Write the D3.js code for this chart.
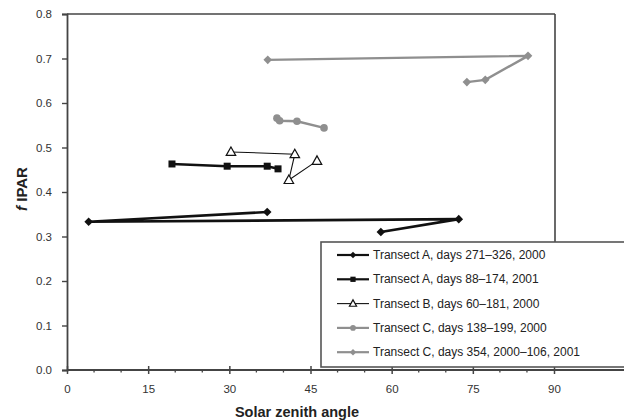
<!DOCTYPE html>
<html>
<head>
<meta charset="utf-8">
<script src="https://cdn.jsdelivr.net/npm/d3@7"></script>
<style>
  html, body { margin: 0; padding: 0; background: #fff; }
  svg { display: block; font-family: "Liberation Sans", Arial, sans-serif; }
</style>
</head>
<body>
<svg id="chart" width="624" height="420"></svg>
<script>
// fIPAR versus solar zenith angle, per transect and period
const seriesNames = [
  "Transect A, days 271\u2013326, 2000",
  "Transect A, days 88\u2013174, 2001",
  "Transect B, days 60\u2013181, 2000",
  "Transect C, days 138\u2013199, 2000",
  "Transect C, days 354, 2000\u2013106, 2001"
];
const transectA2000 = [[37.0, 0.355], [4.0, 0.333], [72.4, 0.339], [58.0, 0.310]];
const transectA2001 = [[19.4, 0.463], [29.6, 0.458], [37.0, 0.458], [39.0, 0.452]];
const transectB2000 = [[30.3, 0.490], [42.1, 0.485], [41.0, 0.427], [46.2, 0.470]];
const transectC2000 = [[38.8, 0.566], [39.3, 0.560], [42.5, 0.559], [47.5, 0.544]];
const transectC2001 = [[37.1, 0.697], [85.2, 0.706], [77.3, 0.652], [73.9, 0.647]];
const xTicks = [0, 15, 30, 45, 60, 75, 90];
const xMinorTicks = d3.range(0, 91, 5);
const yTicks = [0, 0.1, 0.2, 0.3, 0.4, 0.5, 0.6, 0.7, 0.8];

const series = [
  { name: seriesNames[0], data: transectA2000, color: "#111", width: 2.6, marker: "diamond" },
  { name: seriesNames[1], data: transectA2001, color: "#111", width: 2.6, marker: "square" },
  { name: seriesNames[2], data: transectB2000, color: "#111", width: 1.1, marker: "triangle" },
  { name: seriesNames[3], data: transectC2000, color: "#8f8f8f", width: 2.4, marker: "circle" },
  { name: seriesNames[4], data: transectC2001, color: "#8f8f8f", width: 2.4, marker: "diamond" }
];

const svg = d3.select("#chart");
const plotLeft = 67, plotRight = 554, plotTop = 14, plotBottom = 370;

const x = d3.scaleLinear().domain([0, 90]).range([plotLeft, plotRight]);
const y = d3.scaleLinear().domain([0, 0.8]).range([plotBottom, plotTop]);

const axisColor = "#444";

// frame: top and right edges
svg.append("line").attr("x1", plotLeft).attr("x2", plotRight + 1).attr("y1", plotTop).attr("y2", plotTop)
  .attr("stroke", axisColor).attr("stroke-width", 1.6);
svg.append("line").attr("x1", plotRight + 1).attr("x2", plotRight + 1).attr("y1", plotTop).attr("y2", 243)
  .attr("stroke", axisColor).attr("stroke-width", 1.6);

// y axis
const yAxis = d3.axisLeft(y).tickValues(yTicks).tickFormat(d3.format(".1f")).tickSize(5).tickPadding(10);
const gy = svg.append("g").attr("transform", `translate(${plotLeft},0)`).call(yAxis);
gy.select(".domain").attr("stroke", axisColor).attr("stroke-width", 1.8);
gy.selectAll(".tick line").attr("stroke", axisColor).attr("stroke-width", 1.4);
gy.selectAll(".tick text").attr("fill", "#333").style("font-size", "11.5px")
  .style("font-family", "'Liberation Sans', Arial, sans-serif");

// x axis: line extends to the right edge
svg.append("line").attr("x1", plotLeft).attr("x2", 624).attr("y1", plotBottom).attr("y2", plotBottom)
  .attr("stroke", axisColor).attr("stroke-width", 2);
svg.append("g").selectAll("line.minor").data(xMinorTicks.filter(d => d % 15 !== 0)).join("line")
  .attr("x1", d => x(d)).attr("x2", d => x(d)).attr("y1", plotBottom).attr("y2", plotBottom + 2.5)
  .attr("stroke", axisColor).attr("stroke-width", 1.3);
const xAxis = d3.axisBottom(x).tickValues(xTicks).tickFormat(d3.format("d")).tickSize(4).tickPadding(11);
const gx = svg.append("g").attr("transform", `translate(0,${plotBottom})`).call(xAxis);
gx.select(".domain").remove();
gx.selectAll(".tick line").attr("y1", -4).attr("stroke", axisColor).attr("stroke-width", 1.5);
gx.selectAll(".tick text").attr("fill", "#333").style("font-size", "11.5px")
  .style("font-family", "'Liberation Sans', Arial, sans-serif");

// axis titles
svg.append("text").attr("x", 297).attr("y", 417).attr("text-anchor", "middle")
  .style("font-size", "14.5px").style("font-weight", "bold").attr("fill", "#222")
  .text("Solar zenith angle");
const yt = svg.append("text").attr("transform", "translate(27,189) rotate(-90)")
  .attr("text-anchor", "middle").style("font-size", "15px").style("font-weight", "bold").attr("fill", "#222");
yt.append("tspan").style("font-style", "italic").text("f");
yt.append("tspan").text(" IPAR");

// marker drawing
function drawMarker(g, type, cx, cy, color, scale = 1) {
  if (type === "diamond") {
    const r = 4.3 * scale;
    g.append("path").attr("d", `M${cx},${cy - r}L${cx + r},${cy}L${cx},${cy + r}L${cx - r},${cy}Z`).attr("fill", color);
  } else if (type === "square") {
    const s = 7 * scale;
    g.append("rect").attr("x", cx - s / 2).attr("y", cy - s / 2).attr("width", s).attr("height", s).attr("fill", color);
  } else if (type === "triangle") {
    const r = 5 * scale;
    g.append("path").attr("d", `M${cx},${cy - r}L${cx + r * 0.95},${cy + r * 0.7}L${cx - r * 0.95},${cy + r * 0.7}Z`)
      .attr("fill", "#fff").attr("stroke", color).attr("stroke-width", 1.2);
  } else if (type === "circle") {
    g.append("circle").attr("cx", cx).attr("cy", cy).attr("r", 3.8 * scale).attr("fill", color);
  }
}

const line = d3.line().x(d => x(d[0])).y(d => y(d[1]));
series.forEach(s => {
  const g = svg.append("g");
  g.append("path").attr("d", line(s.data)).attr("fill", "none")
    .attr("stroke", s.color).attr("stroke-width", s.width).attr("stroke-linejoin", "miter");
  s.data.forEach(d => drawMarker(g, s.marker, x(d[0]), y(d[1]), s.color));
});

// legend
const lg = svg.append("g");
lg.append("rect").attr("x", 321).attr("y", 242).attr("width", 310).attr("height", 125)
  .attr("fill", "#fff").attr("stroke", "#555").attr("stroke-width", 1.6);
series.forEach((s, i) => {
  const ly = 255 + i * 24.3;
  lg.append("line").attr("x1", 337).attr("x2", 369).attr("y1", ly).attr("y2", ly)
    .attr("stroke", s.color).attr("stroke-width", Math.min(s.width, 2.2));
  drawMarker(lg, s.marker, 353, ly, s.color, 0.75);
  lg.append("text").attr("x", 373).attr("y", ly + 4).style("font-size", "12px")
    .attr("fill", "#222").text(s.name);
});
</script>
</body>
</html>
